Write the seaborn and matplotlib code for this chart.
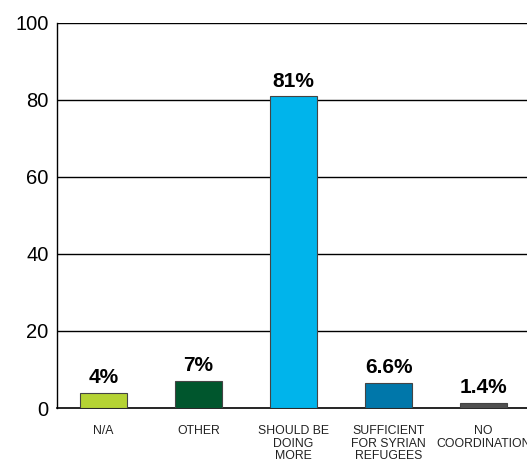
import matplotlib
matplotlib.use("Agg")
import matplotlib.pyplot as plt
import seaborn as sns
import pandas as pd

categories = ["N/A", "OTHER", "SHOULD BE\nDOING\nMORE", "SUFFICIENT\nFOR SYRIAN\nREFUGEES", "NO\nCOORDINATION"]
values = [4, 7, 81, 6.6, 1.4]
value_labels = ["4%", "7%", "81%", "6.6%", "1.4%"]
colors = ["#b5d334", "#00562d", "#00b4eb", "#0077aa", "#505050"]
y_ticks = [0, 20, 40, 60, 80, 100]

sns.set_style("white")
plt.rcParams["font.family"] = ["Liberation Sans", "DejaVu Sans"]

df = pd.DataFrame({"cat": categories, "val": values})

fig = plt.figure(figsize=(5.27, 4.62), dpi=100)
ax = fig.add_axes([57 / 527, 1 - 408 / 462, (532 - 57) / 527, (408 - 23) / 462])

sns.barplot(data=df, x="cat", y="val", hue="cat", palette=colors, legend=False,
            saturation=1, width=0.49, edgecolor="#444444", linewidth=0.8, ax=ax, zorder=3)

ax.set_ylim(0, 100)
ax.set_xlim(-0.49, 4.51)
ax.set_yticks(y_ticks)
for t in y_ticks[1:]:
    ax.axhline(t, color="black", linewidth=1.0, zorder=1)

ax.set_xlabel("")
ax.set_ylabel("")
ax.tick_params(axis="y", labelsize=14.5, direction="in", length=7, color="#888888",
               pad=6, labelcolor="black")
ax.tick_params(axis="x", labelsize=8.8, length=0, pad=12, labelcolor="#222222")
for lab in ax.get_xticklabels():
    lab.set_linespacing(1.1)

for s in ["top", "right"]:
    ax.spines[s].set_visible(False)
ax.spines["left"].set_color("black")
ax.spines["bottom"].set_color("black")
ax.spines["left"].set_linewidth(1.0)
ax.spines["bottom"].set_linewidth(1.2)

for i, (v, lbl) in enumerate(zip(values, value_labels)):
    ax.annotate(lbl, (i, v), xytext=(0, 4), textcoords="offset points",
                ha="center", va="bottom", fontsize=15, fontweight="bold", color="black")

fig.savefig("out.png", dpi=100)
